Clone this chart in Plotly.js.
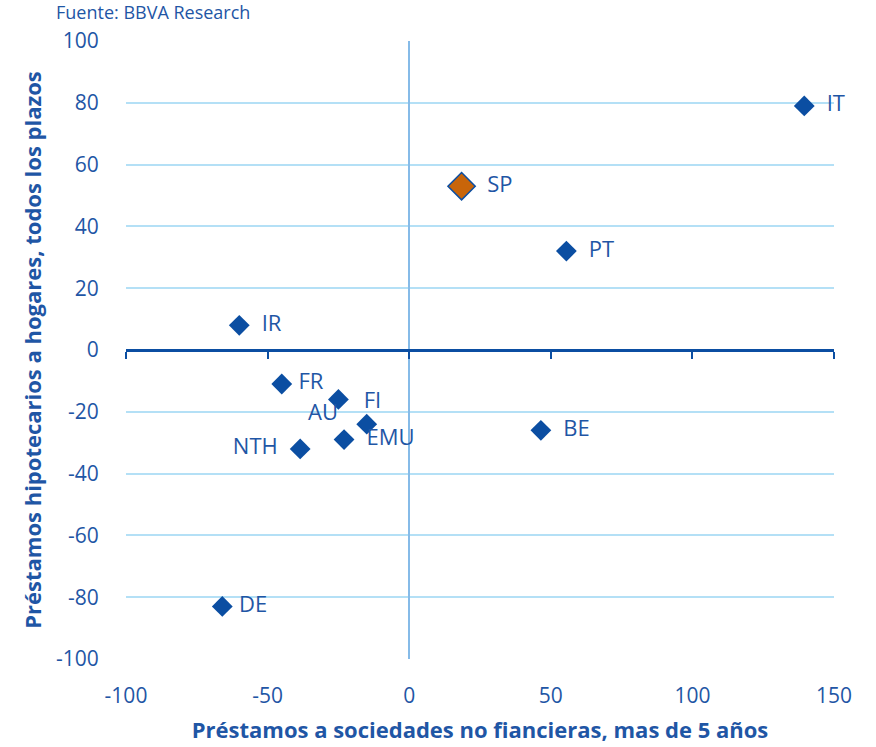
<!DOCTYPE html>
<html>
<head>
<meta charset="utf-8">
<script src="https://cdn.plot.ly/plotly-3.0.1.min.js"></script>
<style>html,body{margin:0;padding:0;background:#fff;}#chart{width:876px;height:747px;}</style>
</head>
<body>
<div id="chart"></div>
<script>
// Data
const countries = ['IT', 'SP', 'PT', 'IR', 'FR', 'AU', 'FI', 'EMU', 'NTH', 'BE', 'DE'];
const corpLoans = [139.5, 18.5, 55.5, -60, -45, -25, -15, -23, -38.5, 46.5, -66];
const mortgages = [79, 53, 32, 8, -11, -16, -24, -29, -32, -26, -83];
const highlight = 'SP';
const xTicks = [-100, -50, 0, 50, 100, 150];
const yTicks = [-100, -80, -60, -40, -20, 0, 20, 40, 60, 80, 100];

const labelPos = {IT:'middle right', SP:'middle right', PT:'middle right', IR:'middle right',
  FR:'middle right', AU:'none', FI:'top center', EMU:'middle right', NTH:'middle left',
  BE:'middle right', DE:'middle right'};
const labelText = {IT:'  IT', SP:'  SP', PT:'  PT', IR:'  IR', FR:' FR', AU:'', FI:'  FI',
  EMU:'  EMU', NTH:'NTH  ', BE:'  BE', DE:' DE'};

const dark = '#0b4ea2';
const txt = '#1f56a5';
const font = 'Open Sans, Liberation Sans, sans-serif';
const labelSize = 22;

const idxMain = countries.map((c,i)=>i).filter(i=>countries[i]!==highlight);
const idxHi = countries.map((c,i)=>i).filter(i=>countries[i]===highlight);
const iAU = countries.indexOf('AU');

const traces = [
  {
    type:'scatter', mode:'markers+text',
    x: idxMain.map(i=>corpLoans[i]), y: idxMain.map(i=>mortgages[i]),
    text: idxMain.map(i=>labelText[countries[i]]),
    textposition: idxMain.map(i=>labelPos[countries[i]]==='none'?'middle right':labelPos[countries[i]]),
    textfont:{family:font, size:labelSize, color:txt},
    marker:{symbol:'diamond', size:16, color:dark},
    cliponaxis:false, hoverinfo:'skip', showlegend:false
  },
  {
    type:'scatter', mode:'markers+text',
    x: idxHi.map(i=>corpLoans[i]), y: idxHi.map(i=>mortgages[i]),
    text: idxHi.map(i=>labelText[countries[i]]),
    textposition: idxHi.map(i=>labelPos[countries[i]]),
    textfont:{family:font, size:labelSize, color:txt},
    marker:{symbol:'diamond', size:21, color:'#c8650a', line:{color:dark, width:1.5}},
    cliponaxis:false, hoverinfo:'skip', showlegend:false
  },
  {
    // carrier for the tick-marked axis line at y = 0
    type:'scatter', mode:'markers', x:[0], y:[0], xaxis:'x2', yaxis:'y',
    marker:{opacity:0}, hoverinfo:'skip', showlegend:false
  }
];

const layout = {
  width:876, height:747,
  margin:{l:126, r:42, t:41, b:88},
  paper_bgcolor:'#fff', plot_bgcolor:'#fff',
  font:{family:font, color:txt},
  xaxis:{
    range:[-100,150], tickvals:xTicks, ticktext:xTicks.map(String), showgrid:false,
    zeroline:true, zerolinecolor:'#86bbe8', zerolinewidth:2.5,
    showline:false, ticks:'outside', ticklen:18, tickcolor:'rgba(0,0,0,0)',
    tickfont:{family:font, size:21, color:txt},
    title:{text:'<b>Préstamos a sociedades no fiancieras, mas de 5 años</b>', font:{family:font, size:22, color:txt}, standoff:14}
  },
  xaxis2:{
    range:[-100,150], tickvals:xTicks, overlaying:'x', anchor:'free', position:0.5,
    showline:true, linecolor:dark, linewidth:2.5, ticks:'outside', ticklen:7, tickwidth:2, tickcolor:dark,
    showticklabels:false, showgrid:false, zeroline:false, side:'bottom'
  },
  yaxis:{
    range:[-100,100], tickvals:yTicks, ticktext:yTicks.map(String), showgrid:true, gridcolor:'#b4e0f6', gridwidth:2,
    zeroline:false, showline:false, ticks:'outside', ticklen:22, tickcolor:'rgba(0,0,0,0)',
    tickfont:{family:font, size:21, color:txt},
    title:{text:'<b>Préstamos hipotecarios a hogares, todos los plazos</b>', font:{family:font, size:22, color:txt}, standoff:8}
  },
  annotations:[
    {
      xref:'paper', yref:'paper', x:-0.102, y:1.07, xanchor:'left', yanchor:'top',
      text:'Fuente: BBVA Research', showarrow:false, font:{family:font, size:18, color:txt}
    },
    {
      xref:'x', yref:'y', x:corpLoans[iAU], y:mortgages[iAU], xanchor:'right', yanchor:'middle',
      xshift:2, yshift:-12, text:'AU', showarrow:false, font:{family:font, size:labelSize, color:txt}
    }
  ]
};

Plotly.newPlot('chart', traces, layout, {displayModeBar:false, staticPlot:true});
</script>
</body>
</html>
